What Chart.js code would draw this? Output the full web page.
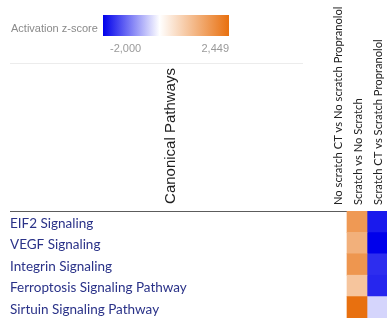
<!DOCTYPE html>
<html>
<head>
<title>Canonical Pathways</title>
<script src="https://cdn.jsdelivr.net/npm/chart.js"></script>
<style>
  html, body { margin: 0; padding: 0; background: #fff; overflow: hidden; }
  #wrap { width: 387px; height: 320px; }
</style>
</head>
<body>
<div id="wrap"><canvas id="heatChart"></canvas></div>
<script>
    // rows and columns of the heatmap
    var pathways = [
        'EIF2 Signaling',
        'VEGF Signaling',
        'Integrin Signaling',
        'Ferroptosis Signaling Pathway',
        'Sirtuin Signaling Pathway'
    ];
    var comparisons = [
        'No scratch CT vs No scratch Propranolol',
        'Scratch vs No Scratch',
        'Scratch CT vs Scratch Propranolol'
    ];

    // activation z-scores per comparison (null = no value)
    var noScratchCTvsProp = [null, null, null, null, null];
    var scratchVsNoScratch = [1.75, 1.35, 1.8, 1.0, 2.449];
    var scratchCTvsProp = [-1.8, -2.0, -1.65, -1.7, -0.33];

    // colour scale range
    var zMin = -2.000;
    var zMax = 2.449;

    var lowColor = [0, 0, 235];
    var highColor = [232, 112, 15];

    function zColor(v) {
        if (v === null) return 'rgba(0,0,0,0)';
        var end = v < 0 ? lowColor : highColor;
        var t = v < 0 ? v / zMin : v / zMax;
        t = Math.max(0, Math.min(1, t));
        var c = end.map(function (e) { return Math.round(255 + (e - 255) * t); });
        return 'rgb(' + c.join(',') + ')';
    }

    function fmt(v) {
        return v.toFixed(3).replace('.', ',');
    }

    var columnValues = [noScratchCTvsProp, scratchVsNoScratch, scratchCTvsProp];

    var decorPlugin = {
        id: 'decor',
        beforeDatasetsDraw: function (chart) {
            var ctx = chart.ctx, area = chart.chartArea;
            ctx.save();
            ctx.strokeStyle = '#5c5c5c';
            ctx.lineWidth = 1;
            ctx.beginPath();
            ctx.moveTo(10, area.top + 0.5);
            ctx.lineTo(area.right, area.top + 0.5);
            ctx.stroke();
            ctx.restore();
        },
        afterDraw: function (chart) {
            var ctx = chart.ctx;
            ctx.save();

            // colour legend
            ctx.font = '11px "Liberation Sans", Arial, sans-serif';
            ctx.fillStyle = '#8a8a8a';
            ctx.textBaseline = 'alphabetic';
            ctx.textAlign = 'left';
            ctx.fillText('Activation z-score', 11, 32);

            var bx = 103, by = 15, bw = 126, bh = 21;
            var grad = ctx.createLinearGradient(bx, 0, bx + bw, 0);
            grad.addColorStop(0, zColor(zMin));
            grad.addColorStop((0 - zMin) / (zMax - zMin), '#ffffff');
            grad.addColorStop(1, zColor(zMax));
            ctx.fillStyle = grad;
            ctx.fillRect(bx, by, bw, bh);

            ctx.fillStyle = '#9a9a9a';
            ctx.fillText(fmt(zMin), 110, 52);
            ctx.textAlign = 'right';
            ctx.fillText(fmt(zMax), 229, 52);

            // faint separator
            ctx.strokeStyle = '#ececec';
            ctx.lineWidth = 1;
            ctx.beginPath();
            ctx.moveTo(10, 63.5);
            ctx.lineTo(303, 63.5);
            ctx.stroke();

            // vertical title
            ctx.translate(175, 136);
            ctx.rotate(-Math.PI / 2);
            ctx.textAlign = 'center';
            ctx.fillStyle = '#1e1e1e';
            ctx.font = '15px "Liberation Sans", Arial, sans-serif';
            ctx.fillText('Canonical Pathways', 0, 0);

            ctx.restore();
        }
    };

    var ctx = document.getElementById('heatChart').getContext('2d');
    var heatChart = new Chart(ctx, {
        type: 'bar',
        data: {
            labels: pathways,
            datasets: comparisons.map(function (name, i) {
                return {
                    label: name,
                    data: pathways.map(function () { return 1; }),
                    backgroundColor: columnValues[i].map(zColor),
                    borderWidth: 0,
                    barPercentage: 1,
                    categoryPercentage: 1
                };
            })
        },
        options: {
            indexAxis: 'y',
            responsive: true,
            maintainAspectRatio: false,
            animation: false,
            layout: { padding: { left: 10, right: 0, top: 0, bottom: 2 } },
            plugins: {
                legend: { display: false },
                tooltip: { enabled: false }
            },
            scales: {
                x: {
                    type: 'linear',
                    position: 'top',
                    stacked: true,
                    min: 0,
                    max: comparisons.length,
                    grid: { display: false, drawTicks: false },
                    border: { display: false },
                    afterBuildTicks: function (axis) {
                        axis.ticks = comparisons.map(function (c, i) { return { value: i + 0.5 }; });
                    },
                    afterFit: function (axis) {
                        axis.height = 211;
                        axis.paddingLeft = 0;
                        axis.paddingRight = 0;
                    },
                    ticks: {
                        autoSkip: false,
                        minRotation: 90,
                        maxRotation: 90,
                        padding: 6,
                        labelOffset: 15,
                        color: '#222',
                        font: { family: 'Lato', size: 11.2 },
                        callback: function (v, i) { return comparisons[i]; }
                    }
                },
                y: {
                    stacked: true,
                    grid: { display: false, drawTicks: false },
                    border: { display: false },
                    afterFit: function (axis) {
                        axis.width = 317;
                        axis.paddingTop = 0;
                        axis.paddingBottom = 0;
                    },
                    ticks: {
                        crossAlign: 'far',
                        padding: 0,
                        labelOffset: 2,
                        color: '#2a3288',
                        font: { family: 'Lato', size: 13.5 }
                    }
                }
            }
        },
        plugins: [decorPlugin]
    });
</script>
</body>
</html>
